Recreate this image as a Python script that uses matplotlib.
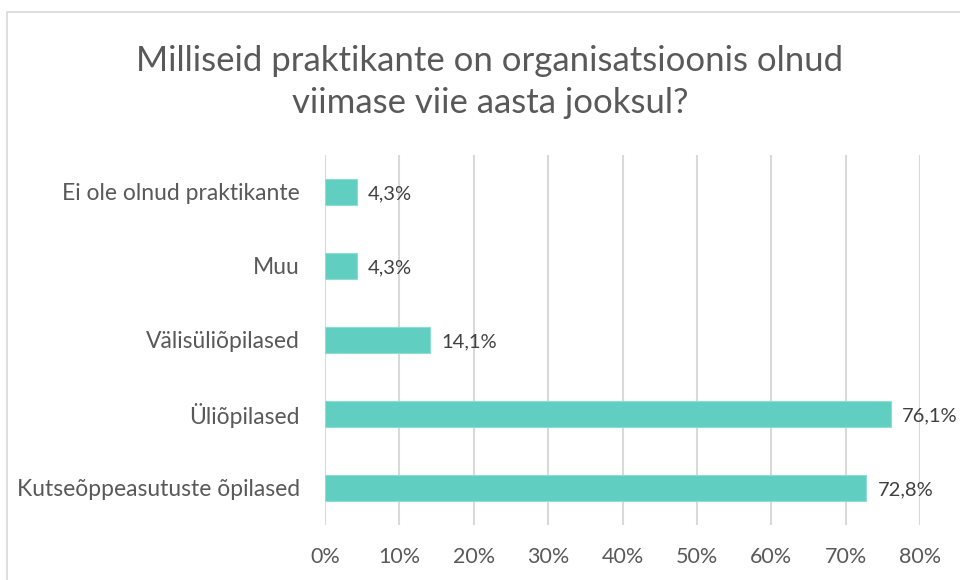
import matplotlib
matplotlib.use('Agg')
import matplotlib.pyplot as plt
from matplotlib.patches import Rectangle

categories = ["Kutseõppeasutuste õpilased", "Üliõpilased", "Välisüliõpilased",
              "Muu", "Ei ole olnud praktikante"]
values = [72.8, 76.1, 14.1, 4.3, 4.3]
value_labels = ["72,8%", "76,1%", "14,1%", "4,3%", "4,3%"]
ticks = [0, 10, 20, 30, 40, 50, 60, 70, 80]
tick_labels = [f"{t}%" for t in ticks]
title = "Milliseid praktikante on organisatsioonis olnud\nviimase viie aasta jooksul?"

TEXT = "#595959"
BAR = "#60CFC1"
GRID = "#D9D9D9"

plt.rcParams['font.family'] = ['Lato', 'DejaVu Sans']

fig = plt.figure(figsize=(9.6, 5.8), dpi=100)
fig.patches.append(Rectangle((7 / 960, -0.1), 1.2, 1 - 12 / 580 + 0.1,
                             transform=fig.transFigure, fill=False,
                             edgecolor=GRID, linewidth=1.2))

ax = fig.add_axes([325 / 960, 1 - 525 / 580, 595 / 960, 370 / 580])
y = range(len(categories))
ax.barh(y, values, height=0.35, color=BAR, edgecolor="#8EDDD3", linewidth=0.8, zorder=3)
for yi, v, lab in zip(y, values, value_labels):
    ax.annotate(lab, (v, yi), xytext=(8, -1), textcoords="offset points",
                ha="left", va="center", fontsize=14.5, color="#404040")

ax.set_xlim(0, 80)
ax.set_ylim(-0.5, len(categories) - 0.5)
ax.set_xticks(ticks)
ax.set_xticklabels(tick_labels)
ax.set_yticks(list(y))
ax.set_yticklabels(categories)
ax.tick_params(axis="x", length=0, pad=16, labelsize=15.5, colors=TEXT)
ax.tick_params(axis="y", length=0, pad=18, labelsize=16.5, colors=TEXT)
ax.grid(axis="x", color=GRID, linewidth=1.5, zorder=0)
for s in ax.spines.values():
    s.set_visible(False)

fig.text(490 / 960, 1 - 82 / 580, title, ha="center", va="center",
         fontsize=25, color=TEXT, linespacing=1.38)

fig.savefig("out.png", dpi=100)
